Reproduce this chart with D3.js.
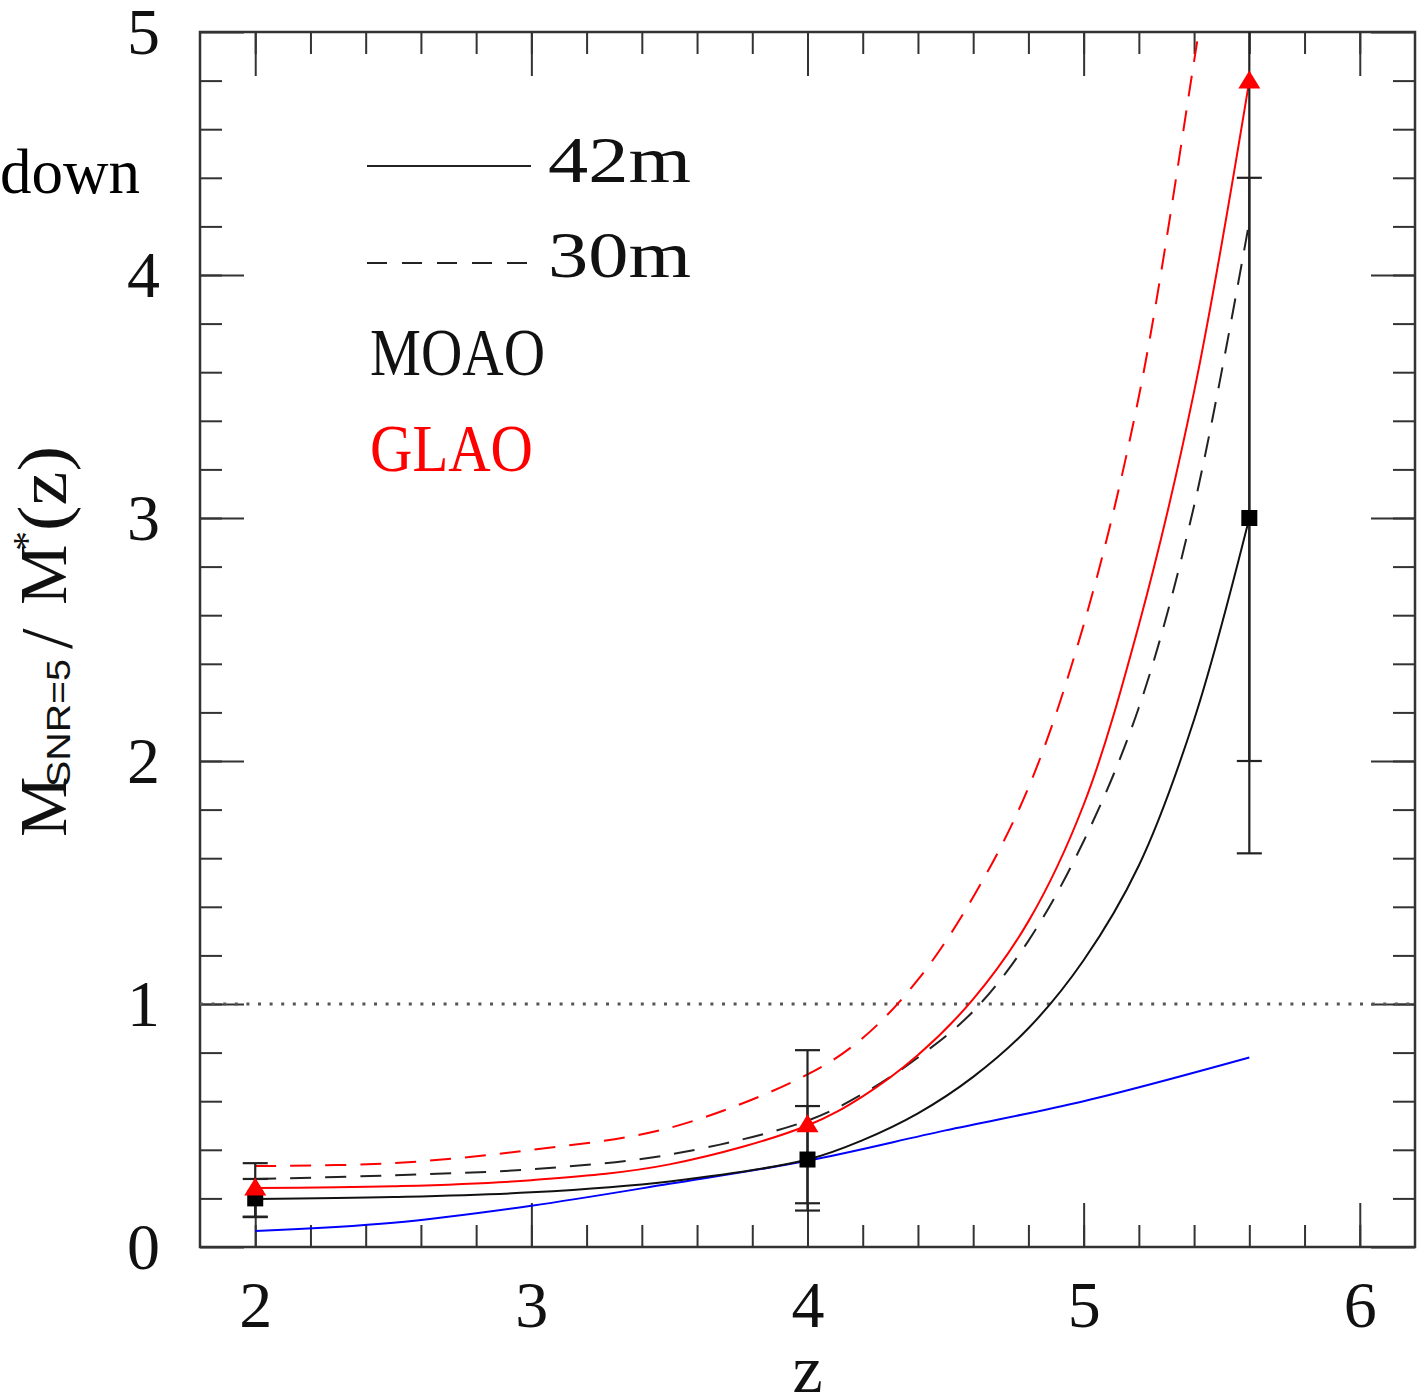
<!DOCTYPE html>
<html>
<head>
<meta charset="utf-8">
<script src="https://cdn.jsdelivr.net/npm/d3@7"></script>
<style>
  body { margin: 0; background: #fff; }
  svg { display: block; }
  text { font-family: "Liberation Serif", "Times New Roman", serif; }
</style>
</head>
<body>
<div id="chart"></div>
<script>
// ---- data ----
const xMajor = [2, 3, 4, 5, 6];
const yMajor = [0, 1, 2, 3, 4, 5];

const curveZ   = [2, 2.5, 3, 3.5, 4, 4.2, 4.4, 4.6, 4.8, 5.0, 5.2, 5.4, 5.6];
const moao42   = [0.198, 0.206, 0.225, 0.27, 0.36, 0.44, 0.55, 0.70, 0.90, 1.18, 1.57, 2.17, 3.0];
const moao30   = [0.28, 0.295, 0.32, 0.38, 0.52, 0.63, 0.78, 0.97, 1.26, 1.67, 2.22, 3.05, 4.22];
const glao42   = [0.243, 0.25, 0.275, 0.34, 0.50, 0.62, 0.79, 1.02, 1.34, 1.82, 2.56, 3.52, 4.8];

const glao30Z  = [2, 2.5, 3, 3.5, 4, 4.2, 4.4, 4.6, 4.8, 5.0, 5.2, 5.4, 5.45];
const glao30   = [0.333, 0.345, 0.40, 0.49, 0.71, 0.86, 1.10, 1.44, 1.89, 2.56, 3.50, 4.88, 5.25];

const limitZ   = [2, 2.5, 3, 3.5, 4, 4.5, 5, 5.6];
const limitV   = [0.066, 0.10, 0.17, 0.26, 0.355, 0.48, 0.60, 0.78];

const pointZ   = [2, 4, 5.6];
const moaoPts  = [0.20, 0.36, 3.0];
const moaoLo   = [0.123, 0.15, 1.62];
const moaoHi   = [0.28, 0.58, 4.4];
const glaoPts  = [0.245, 0.505, 4.8];
const glaoLo   = [0.125, 0.18, 2.0];
const glaoHi   = [0.345, 0.81, 5.6];

const refLine = 1;

// ---- layout ----
const W = 1425, H = 1398;
const pLeft = 200, pRight = 1415, pTop = 32, pBottom = 1247;

const svg = d3.select("#chart").append("svg")
  .attr("width", W).attr("height", H);

const x = d3.scaleLinear().domain([1.8, 6.2]).range([pLeft, pRight]);
const y = d3.scaleLinear().domain([0, 5]).range([pBottom, pTop]);

svg.append("clipPath").attr("id", "plot")
  .append("rect")
  .attr("x", pLeft).attr("y", pTop)
  .attr("width", pRight - pLeft).attr("height", pBottom - pTop);

const tickCol = "#333";
const xMinor = d3.range(10, 31).map(i => i / 5);
const yMinor = d3.range(1, 25).map(i => i / 5);

function styleAxis(g) {
  g.select(".domain").remove();
  g.selectAll(".tick line").attr("stroke", tickCol).attr("stroke-width", 2);
}

// bottom axis
svg.append("g").attr("transform", `translate(0,${pBottom})`)
  .call(d3.axisBottom(x).tickValues(xMinor).tickSize(-22).tickFormat(""))
  .call(styleAxis);
svg.append("g").attr("transform", `translate(0,${pBottom})`)
  .call(d3.axisBottom(x).tickValues(xMajor).tickSize(-44).tickPadding(33).tickFormat(d3.format("d")))
  .call(styleAxis)
  .call(g => g.selectAll("text")
    .style("font-family", "'Liberation Serif', serif")
    .attr("font-size", 66).attr("fill", "#111"));

// top axis
svg.append("g").attr("transform", `translate(0,${pTop})`)
  .call(d3.axisTop(x).tickValues(xMinor).tickSize(-22).tickFormat(""))
  .call(styleAxis);
svg.append("g").attr("transform", `translate(0,${pTop})`)
  .call(d3.axisTop(x).tickValues(xMajor).tickSize(-44).tickFormat(""))
  .call(styleAxis);

// left axis
svg.append("g").attr("transform", `translate(${pLeft},0)`)
  .call(d3.axisLeft(y).tickValues(yMinor).tickSize(-22).tickFormat(""))
  .call(styleAxis);
svg.append("g").attr("transform", `translate(${pLeft},0)`)
  .call(d3.axisLeft(y).tickValues(yMajor).tickSize(-44).tickPadding(40).tickFormat(d3.format("d")))
  .call(styleAxis)
  .call(g => g.selectAll("text")
    .style("font-family", "'Liberation Serif', serif")
    .attr("font-size", 66).attr("fill", "#111").attr("dy", "0.32em"));

// right axis
svg.append("g").attr("transform", `translate(${pRight},0)`)
  .call(d3.axisRight(y).tickValues(yMinor).tickSize(-22).tickFormat(""))
  .call(styleAxis);
svg.append("g").attr("transform", `translate(${pRight},0)`)
  .call(d3.axisRight(y).tickValues(yMajor).tickSize(-44).tickFormat(""))
  .call(styleAxis);

// frame
svg.append("rect")
  .attr("x", pLeft).attr("y", pTop)
  .attr("width", pRight - pLeft).attr("height", pBottom - pTop)
  .attr("fill", "none").attr("stroke", tickCol).attr("stroke-width", 2.5);

const plot = svg.append("g").attr("clip-path", "url(#plot)");

// dotted line at 1
plot.append("line")
  .attr("x1", pLeft).attr("x2", pRight)
  .attr("y1", y(refLine)).attr("y2", y(refLine))
  .attr("stroke", "#555").attr("stroke-width", 3)
  .attr("stroke-dasharray", "3,8.6");

const line = d3.line().x(d => x(d[0])).y(d => y(d[1])).curve(d3.curveCatmullRom.alpha(0.5));
const zip = (zs, vs) => zs.map((z, i) => [z, vs[i]]);

const series = [
  { z: limitZ,  v: limitV,  color: "#0000ff", dash: null },
  { z: curveZ,  v: moao42,  color: "#111",    dash: null },
  { z: curveZ,  v: moao30,  color: "#222",    dash: "21,14" },
  { z: curveZ,  v: glao42,  color: "#ff0000", dash: null },
  { z: glao30Z, v: glao30,  color: "#ff0000", dash: "21,14" }
];

plot.selectAll("path.curve")
  .data(series)
  .join("path")
  .attr("class", "curve")
  .attr("d", s => line(zip(s.z, s.v)))
  .attr("fill", "none")
  .attr("stroke", s => s.color)
  .attr("stroke-width", 2)
  .attr("stroke-dasharray", s => s.dash);

// error bars
const bars = pointZ.flatMap((z, i) => [
  { z, lo: moaoLo[i], hi: moaoHi[i] },
  { z, lo: glaoLo[i], hi: glaoHi[i] }
]);
plot.selectAll("line.err")
  .data(bars)
  .join("line")
  .attr("class", "err")
  .attr("x1", d => x(d.z)).attr("x2", d => x(d.z))
  .attr("y1", d => y(d.lo)).attr("y2", d => y(d.hi))
  .attr("stroke", "#222").attr("stroke-width", 2.2);

const caps = bars.flatMap(d => [{ z: d.z, v: d.lo }, { z: d.z, v: d.hi }]);
plot.selectAll("line.cap")
  .data(caps)
  .join("line")
  .attr("class", "cap")
  .attr("x1", d => x(d.z) - 12.5).attr("x2", d => x(d.z) + 12.5)
  .attr("y1", d => y(d.v)).attr("y2", d => y(d.v))
  .attr("stroke", "#222").attr("stroke-width", 2.2);

// markers
plot.selectAll("rect.sq")
  .data(pointZ.map((z, i) => [z, moaoPts[i]]))
  .join("rect")
  .attr("class", "sq")
  .attr("x", d => x(d[0]) - 8).attr("y", d => y(d[1]) - 8)
  .attr("width", 16).attr("height", 16)
  .attr("fill", "#000");

plot.selectAll("path.tri")
  .data(pointZ.map((z, i) => [z, glaoPts[i]]))
  .join("path")
  .attr("class", "tri")
  .attr("transform", d => `translate(${x(d[0])},${y(d[1])})`)
  .attr("d", "M0,-10L11,8L-11,8Z")
  .attr("fill", "#ff0000");

// legend
const leg = svg.append("g");
leg.append("line").attr("x1", 367).attr("x2", 531).attr("y1", 166).attr("y2", 166)
  .attr("stroke", "#222").attr("stroke-width", 2);
leg.append("line").attr("x1", 367).attr("x2", 531).attr("y1", 263).attr("y2", 263)
  .attr("stroke", "#222").attr("stroke-width", 2).attr("stroke-dasharray", "20,15");
leg.append("text").attr("x", 548).attr("y", 182).attr("font-size", 66)
  .attr("textLength", 143).attr("lengthAdjust", "spacingAndGlyphs").attr("fill", "#111").text("42m");
leg.append("text").attr("x", 548).attr("y", 277).attr("font-size", 66)
  .attr("textLength", 143).attr("lengthAdjust", "spacingAndGlyphs").attr("fill", "#111").text("30m");
leg.append("text").attr("x", 370).attr("y", 375).attr("font-size", 68)
  .attr("textLength", 175).attr("lengthAdjust", "spacingAndGlyphs").attr("fill", "#111").text("MOAO");
leg.append("text").attr("x", 370).attr("y", 471).attr("font-size", 68)
  .attr("textLength", 163).attr("lengthAdjust", "spacingAndGlyphs").attr("fill", "#ff0000").text("GLAO");

// stray text at left
svg.append("text").attr("x", 0).attr("y", 193).attr("font-size", 63)
  .attr("fill", "#000").text("down");

// x label
svg.append("text").attr("x", x(4)).attr("y", 1392).attr("font-size", 68)
  .attr("text-anchor", "middle").attr("fill", "#111").text("z");

// y label
const yl = svg.append("g").attr("transform", "translate(66,837) rotate(-90)").attr("fill", "#111");
yl.append("text").attr("x", 0).attr("y", 0).attr("font-size", 68).text("M");
yl.append("text").attr("x", 50).attr("y", 4).attr("font-size", 33)
  .style("font-family", "'Liberation Sans', sans-serif")
  .attr("textLength", 128).attr("lengthAdjust", "spacingAndGlyphs").text("SNR=5");
yl.append("text").attr("x", 188).attr("y", 6).attr("font-size", 74).text("/");
yl.append("text").attr("x", 232).attr("y", 0).attr("font-size", 68).text("M");
yl.append("text").attr("x", 286).attr("y", -26).attr("font-size", 40).text("*");
yl.append("text").attr("x", 306).attr("y", 0).attr("font-size", 70)
  .attr("textLength", 85).attr("lengthAdjust", "spacingAndGlyphs").text("(z)");
</script>
</body>
</html>
